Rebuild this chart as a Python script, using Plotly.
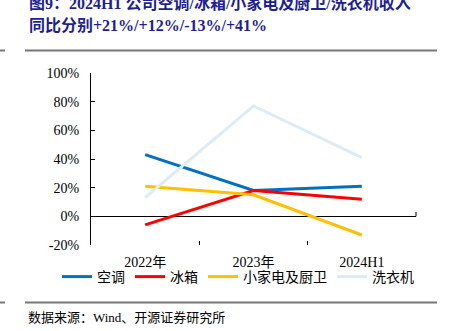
import plotly.graph_objects as go

categories = ["2022年", "2023年", "2024H1"]
ac = [43, 18, 21]
fridge = [-6, 18, 12]
small_app = [21, 15, -13]
washer = [13, 77, 41]
series_names = ["空调", "冰箱", "小家电及厨卫", "洗衣机"]
series_colors = ["#0070C0", "#FF0000", "#FFC000", "#DDEBF7"]
y_ticks = [-20, 0, 20, 40, 60, 80, 100]

W, H = 450, 331
L, R, T, B = 91, 34, 73, 86
ph = H - T - B

def py(p):
    return (H - B - p) / ph

def px(p):
    return (p - L) / (W - L - R)

fig = go.Figure()
for name, vals, col in zip(series_names, [ac, fridge, small_app, washer], series_colors):
    fig.add_trace(go.Scatter(x=categories, y=vals, name=name, mode="lines",
                             line=dict(color=col, width=3)))

serif = "Liberation Serif, Times New Roman, Noto Sans CJK SC, serif"
fig.update_layout(
    width=W, height=H, margin=dict(l=L, r=R, t=T, b=B, autoexpand=False),
    plot_bgcolor="white", paper_bgcolor="white",
    font=dict(family=serif, size=14, color="#000000"),
    showlegend=True,
    legend=dict(orientation="h", x=px(57), xanchor="left", y=py(277), yanchor="middle",
                font=dict(family="Noto Sans CJK SC, serif", size=14, color="#000"),
                itemwidth=30, tracegroupgap=0, bgcolor="rgba(0,0,0,0)"),
    xaxis=dict(type="category", range=[-0.5, 2.5], showline=False, showgrid=False,
               ticks="inside", tickson="boundaries", ticklen=4, tickcolor="#000",
               zeroline=False, tickfont=dict(family=serif, size=14),
               ticklabelstandoff=7),
    yaxis=dict(range=[-20, 100], tickvals=y_ticks, ticktext=[f"{v}%" for v in y_ticks],
               showline=True, linecolor="#000", linewidth=1, showgrid=False,
               ticks="inside", ticklen=4, tickcolor="#000", zeroline=True,
               zerolinecolor="#000", zerolinewidth=1, ticklabelstandoff=8,
               tickfont=dict(family=serif, size=14)),
)

# zero-line end tick and separators
fig.add_shape(type="line", xref="paper", yref="y", x0=1, x1=1, y0=0, y1=3,
              line=dict(color="#000", width=1))
for yy in [50.5, 302.5]:
    fig.add_shape(type="line", xref="paper", yref="paper", x0=px(25), x1=px(437),
                  y0=py(yy), y1=py(yy), line=dict(color="#777", width=2))
    fig.add_shape(type="line", xref="paper", yref="paper", x0=px(0), x1=px(5),
                  y0=py(yy), y1=py(yy), line=dict(color="#777", width=2))

title_col = "#1F1F8F"
fig.add_annotation(xref="paper", yref="paper", x=px(27), y=py(3), xanchor="left", yanchor="middle",
                   text="<b>图9：2024H1 公司空调/冰箱/小家电及厨卫/洗衣机收入</b>", showarrow=False,
                   font=dict(family=serif, size=16, color=title_col))
fig.add_annotation(xref="paper", yref="paper", x=px(27), y=py(26), xanchor="left", yanchor="middle",
                   text="<b>同比分别+21%/+12%/-13%/+41%</b>", showarrow=False,
                   font=dict(family=serif, size=16, color=title_col))
fig.add_annotation(xref="paper", yref="paper", x=px(26), y=py(317), xanchor="left", yanchor="middle",
                   text="数据来源：Wind、开源证券研究所", showarrow=False,
                   font=dict(family=serif, size=13, color="#000"))

fig.write_html("out.html")
